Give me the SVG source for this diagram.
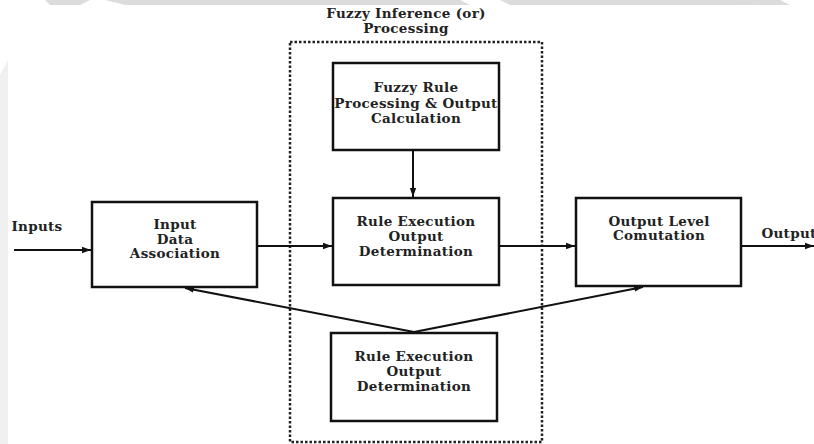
<svg xmlns="http://www.w3.org/2000/svg" width="814" height="444" viewBox="0 0 814 444">
<defs>
<marker id="ah" viewBox="0 0 10 10" refX="10" refY="5" markerWidth="9" markerHeight="9" markerUnits="userSpaceOnUse" orient="auto">
<path d="M0,1.5 L10,5 L0,8.5 z" fill="#111"/>
</marker>
<style>
.box{fill:#fff;stroke:#111;stroke-width:2.5}
.lbl{font-family:"DejaVu Serif",serif;font-weight:bold;font-size:13.5px;letter-spacing:0.3px;fill:#222;text-anchor:middle}
.ln{stroke:#111;stroke-width:2;fill:none}
.wm{fill:#dcdcdc}
</style>
</defs>
<rect width="814" height="444" fill="#fff"/>
<g id="watermark">
<polygon class="wm" points="45,0 90,0 80,5 50,5"/>
<polygon class="wm" points="105,0 460,0 470,5 125,5"/>
<polygon class="wm" points="500,0 780,0 790,5 510,5"/>
<polygon class="wm" points="585,0 760,0 730,5 560,5"/>
<polygon points="0,75 8,60 8,444 0,444" fill="#f0f0f0"/>
</g>
<g id="group-fuzzy">
<rect x="290" y="42" width="252" height="400" fill="none" stroke="#222" stroke-width="2.5" stroke-dasharray="2.5,2"/>
<text class="lbl" x="406" y="18">Fuzzy Inference (or)</text>
<text class="lbl" x="406" y="33">Processing</text>
</g>
<g id="connectors">
<line class="ln" x1="14" y1="250" x2="91" y2="250" marker-end="url(#ah)"/>
<line class="ln" x1="257" y1="246" x2="332" y2="246" marker-end="url(#ah)"/>
<line class="ln" x1="413" y1="150" x2="413" y2="197" marker-end="url(#ah)"/>
<line class="ln" x1="499" y1="246" x2="575" y2="246" marker-end="url(#ah)"/>
<line class="ln" x1="741" y1="246" x2="814" y2="246" marker-end="url(#ah)"/>
<line class="ln" x1="414" y1="332" x2="185" y2="288" marker-end="url(#ah)"/>
<line class="ln" x1="414" y1="332" x2="643" y2="287" marker-end="url(#ah)"/>
</g>
<g id="inputs-label"><text class="lbl" x="37" y="231">Inputs</text></g>
<g id="output-label"><text class="lbl" x="789" y="238">Output</text></g>
<g id="input-data-association">
<rect class="box" x="92" y="202" width="165" height="85"/>
<text class="lbl" x="175" y="229">Input</text>
<text class="lbl" x="175" y="244">Data</text>
<text class="lbl" x="175" y="258">Association</text>
</g>
<g id="fuzzy-rule-processing">
<rect class="box" x="333" y="63" width="166" height="87"/>
<text class="lbl" x="416" y="92">Fuzzy Rule</text>
<text class="lbl" x="416" y="108">Processing &amp; Output</text>
<text class="lbl" x="416" y="123">Calculation</text>
</g>
<g id="rule-execution-main">
<rect class="box" x="333" y="198" width="166" height="87"/>
<text class="lbl" x="416" y="226">Rule Execution</text>
<text class="lbl" x="416" y="241">Output</text>
<text class="lbl" x="416" y="256">Determination</text>
</g>
<g id="output-level-computation">
<rect class="box" x="576" y="198" width="165" height="88"/>
<text class="lbl" x="659" y="226">Output Level</text>
<text class="lbl" x="659" y="240">Comutation</text>
</g>
<g id="rule-execution-bottom">
<rect class="box" x="331" y="333" width="166" height="88"/>
<text class="lbl" x="414" y="361">Rule Execution</text>
<text class="lbl" x="414" y="376">Output</text>
<text class="lbl" x="414" y="391">Determination</text>
</g>
</svg>
